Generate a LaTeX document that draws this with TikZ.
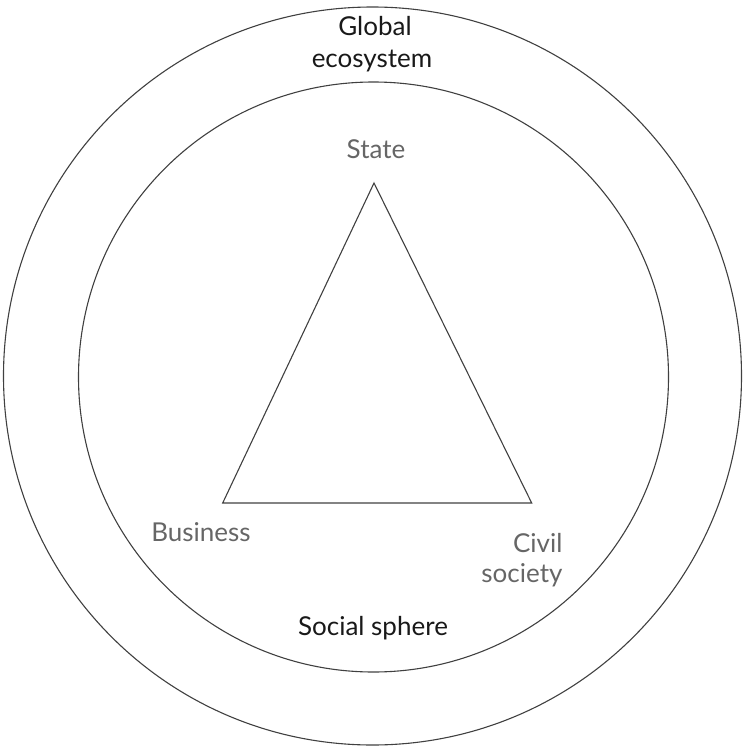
\documentclass[tikz,border=0pt]{standalone}
\usepackage{fontspec}
\setmainfont{Lato}

\begin{document}
\begin{tikzpicture}
            [x=1pt, y=-1pt, semithick, line width=1.1pt,
             ring/.style={draw=black!75},
             side/.style={draw=black!75, line join=miter},
             sector/.style={font=\fontsize{26}{30}\selectfont, text=black!60, inner sep=0pt},
             sphere/.style={font=\fontsize{26}{30}\selectfont, text=black!90, inner sep=0pt}]
            \useasboundingbox (0, 0) rectangle (744, 752);
            \node[shape=circle,ring,minimum size=738pt,inner sep=0pt] (global) at (372.5, 376) {};
            \node[shape=circle,ring,minimum size=590pt,inner sep=0pt] (social) at (373.5, 377) {};

            \coordinate (state) at (374, 183);
            \coordinate (business) at (222.7, 503);
            \coordinate (civil) at (531.7, 503);
            \draw[side] (state) -- (civil) -- (business) -- cycle;

            \node[sphere,anchor=base] (globaltop) at (375, 36) {Global};
            \node[sphere,anchor=base] (globalbot) at (372, 67) {ecosystem};
            \node[sector,anchor=base] (statelabel) at (376, 158) {State};
            \node[sector,anchor=base] (businesslabel) at (201, 541) {Business};
            \node[sector,anchor=base east] (civiltop) at (563, 552) {Civil};
            \node[sector,anchor=base east] (civilbot) at (563, 582) {society};
            \node[sphere,anchor=base] (sociallabel) at (373, 635) {Social sphere};
        \end{tikzpicture}
\end{document}
